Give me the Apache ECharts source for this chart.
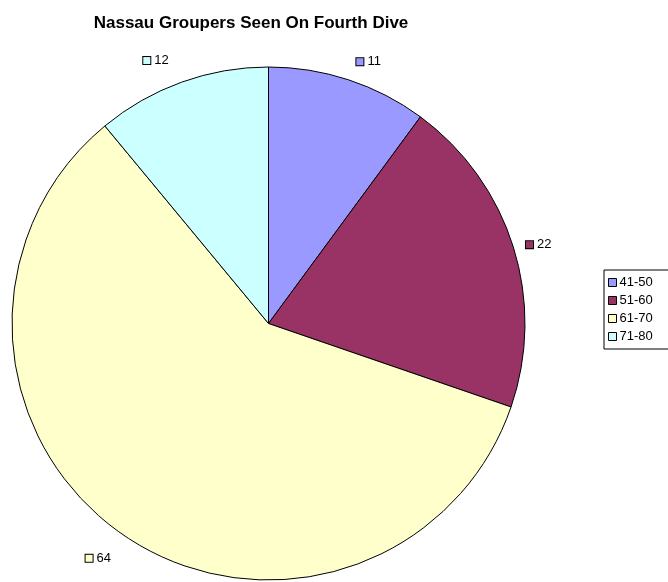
<!DOCTYPE html>
<html>
<head>
<meta charset="utf-8">
<script src="https://cdn.jsdelivr.net/npm/echarts@6/dist/echarts.min.js"></script>
<style>
  html, body { margin: 0; padding: 0; background: #fff; }
  #chart { width: 668px; height: 582px; }
</style>
</head>
<body>
<div id="chart"></div>
<script>
// 年龄段 / 数量
const categories = ['41-50', '51-60', '61-70', '71-80']
const values = [11, 22, 64, 12]
const colors = ['#9999FF', '#993366', '#FFFFCC', '#CCFFFF']
const lineLengths = [19, 8, 29, 23] // 标签离饼图的距离
const lineLengths2 = [-3, 0, -10, 0]

const font = 'Arial, "Liberation Sans", sans-serif'

let chart = echarts.init(document.getElementById('chart'))

let seriesData = categories.map((name, i) => {
  return {
    name: name,
    value: values[i],
    itemStyle: { color: colors[i] },
    labelLine: { show: false, length: lineLengths[i], length2: lineLengths2[i] },
    label: {
      rich: {
        m: {
          width: 7, height: 7,
          backgroundColor: colors[i],
          borderColor: '#000', borderWidth: 1
        }
      }
    }
  }
})

chart.setOption({
  animation: false,
  title: {
    text: 'Nassau Groupers Seen On Fourth Dive',
    left: 246,
    top: 10,
    textAlign: 'center',
    textStyle: { fontFamily: font, fontSize: 17, fontWeight: 'bold', color: '#000' }
  },
  legend: {
    orient: 'vertical',
    left: 604,
    top: 270,
    padding: [6, 40, 6, 4],
    itemWidth: 8,
    itemHeight: 8,
    itemGap: 5,
    borderColor: '#000',
    borderWidth: 1,
    icon: 'rect',
    itemStyle: { borderColor: '#000', borderWidth: 1 },
    textStyle: { fontFamily: font, fontSize: 13, color: '#000', padding: [0, 0, 0, -2] },
    data: categories
  },
  series: [{
    type: 'pie',
    center: [268.5, 323.5],
    radius: 256.5,
    startAngle: 90,
    clockwise: true,
    avoidLabelOverlap: false,
    itemStyle: { borderColor: '#000', borderWidth: 1 },
    emphasis: { disabled: true },
    label: {
      show: true,
      position: 'outside',
      formatter: '{m|}{v|{c}}',
      rich: {
        v: { fontFamily: font, fontSize: 13, color: '#000', padding: [0, 0, 0, 4] }
      }
    },
    data: seriesData
  }]
})
</script>
</body>
</html>
